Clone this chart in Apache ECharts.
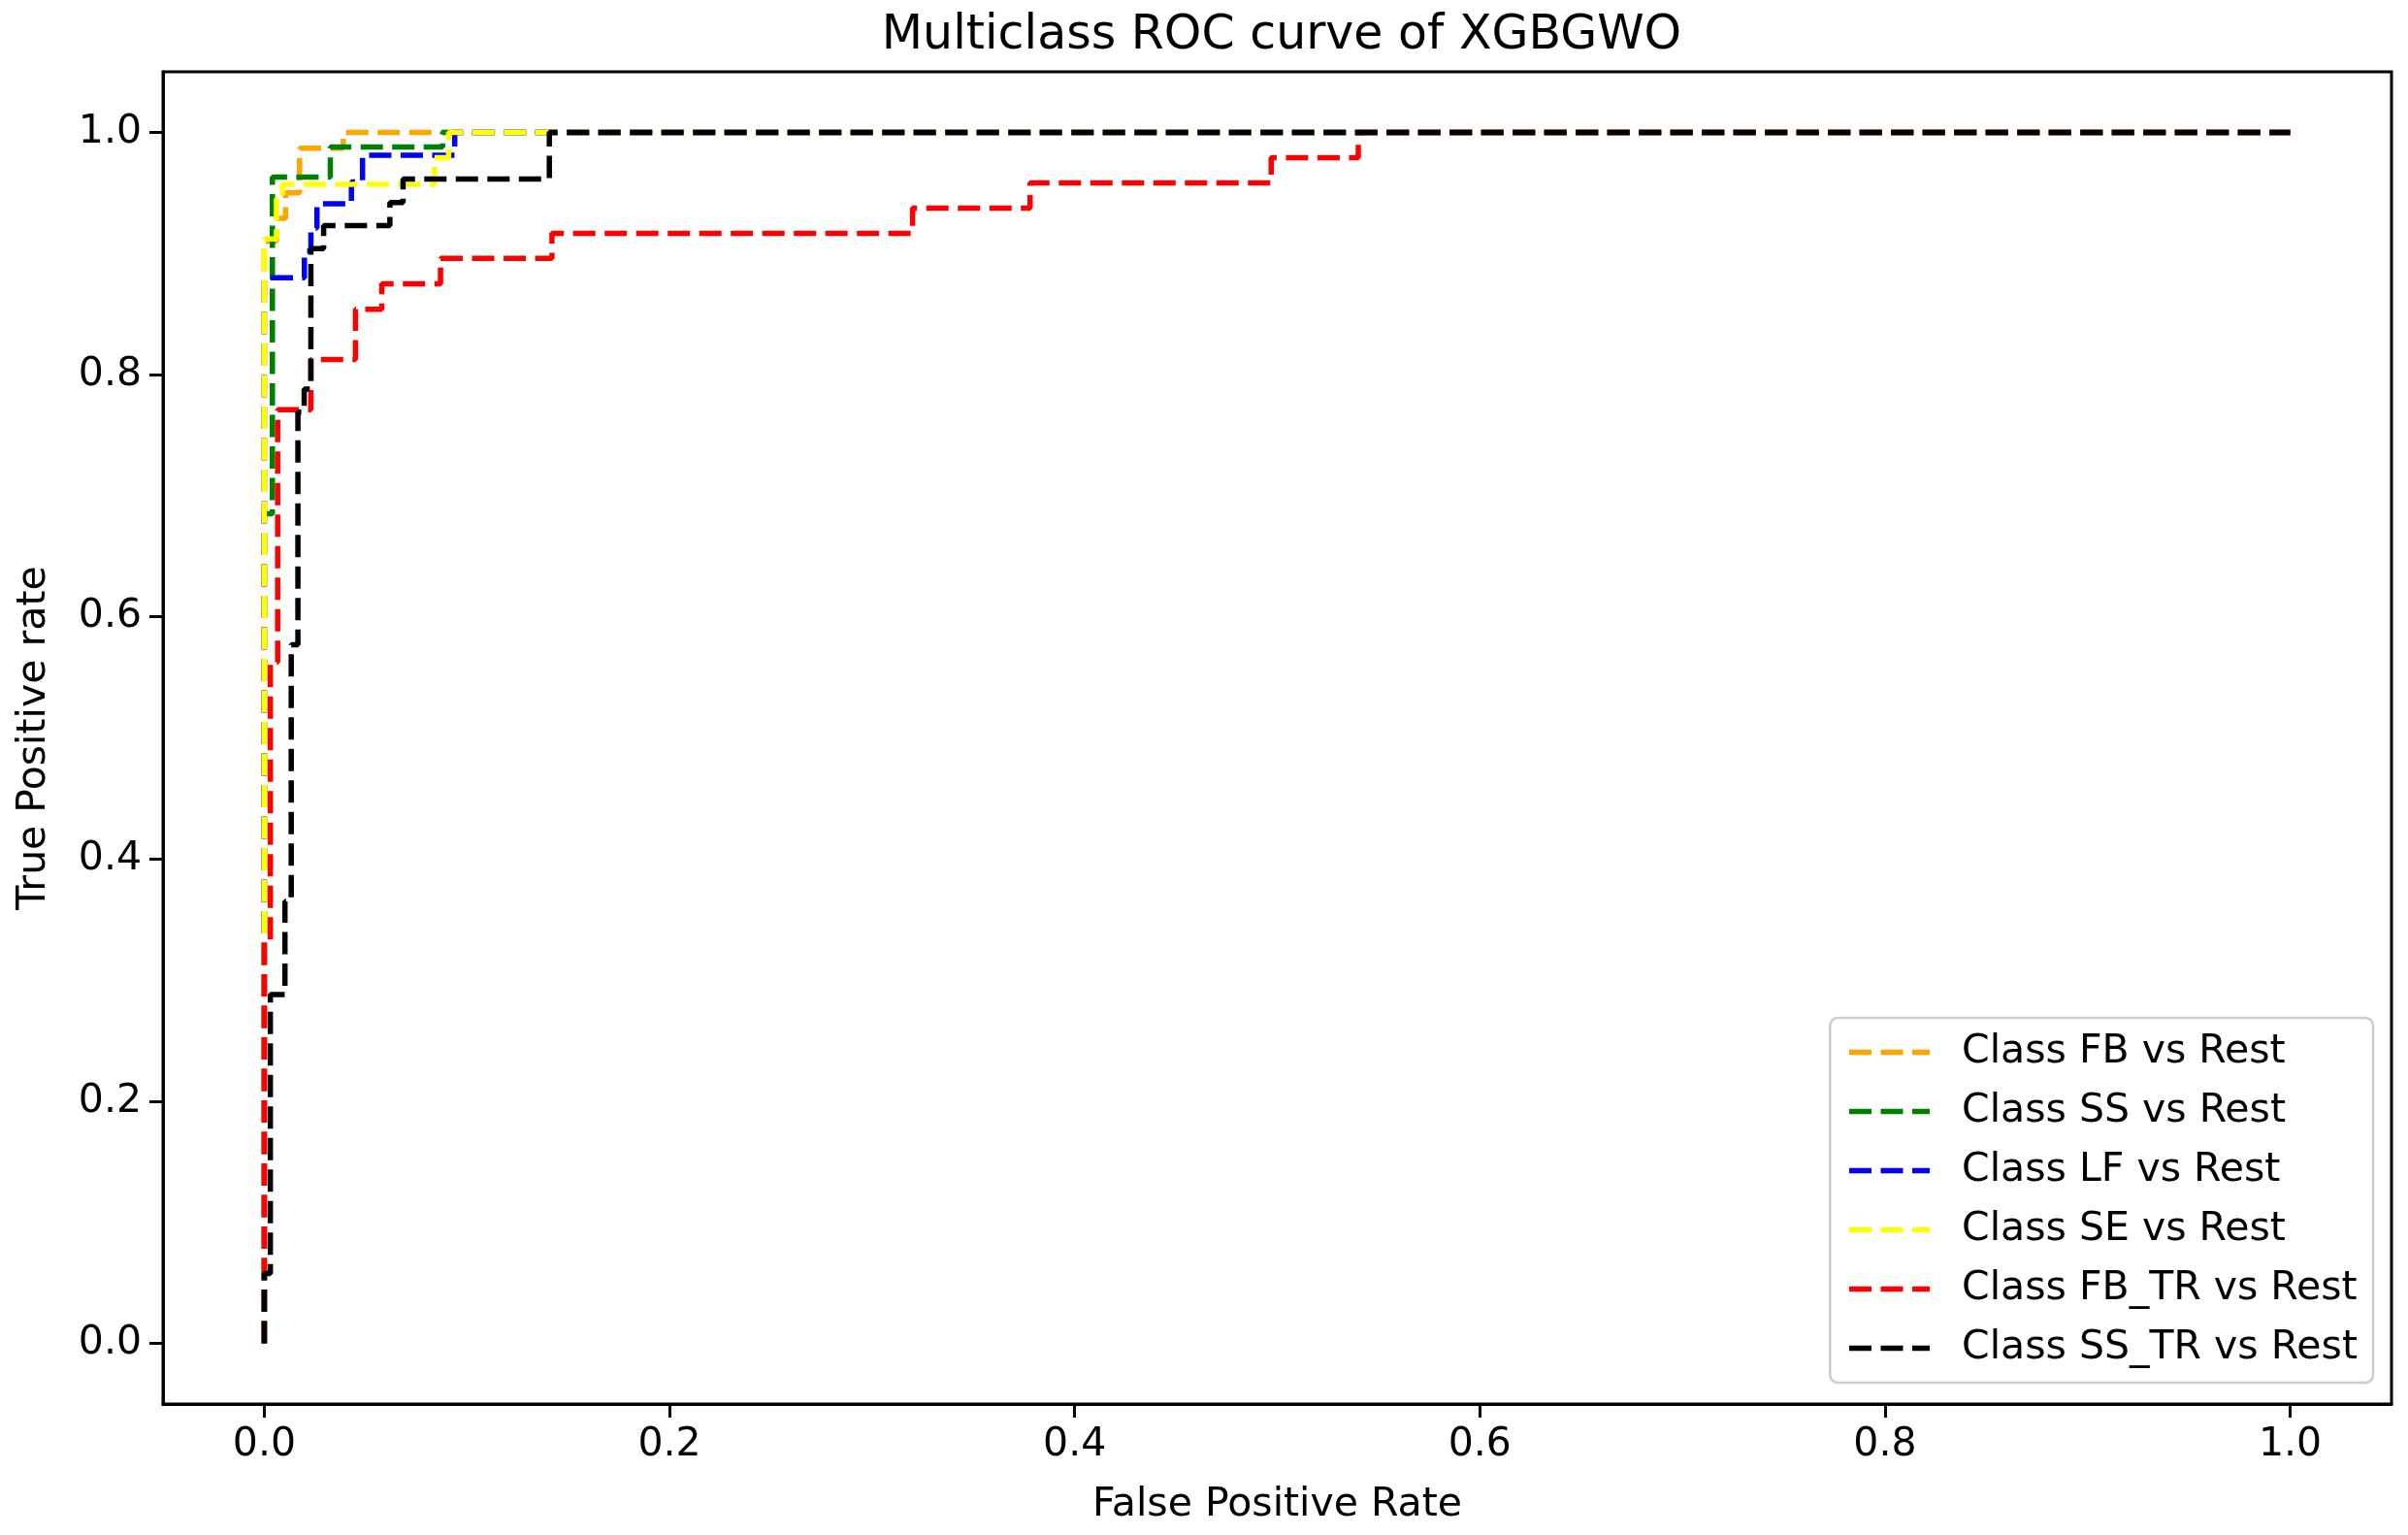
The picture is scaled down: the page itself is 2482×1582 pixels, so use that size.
<!DOCTYPE html>
<html>
<head>
<meta charset="utf-8">
<script src="https://cdn.jsdelivr.net/npm/echarts@6/dist/echarts.min.js"></script>
<style>
  html, body { margin: 0; padding: 0; background: #fff; }
  #chart { width: 2482px; height: 1582px; }
</style>
</head>
<body>
<div id="chart"></div>
<script>
// ---- data ----
const chartTitle = 'Multiclass ROC curve of XGBGWO';
const xAxisName = 'False Positive Rate';
const yAxisName = 'True Positive rate';
const xTicks = [0, 0.2, 0.4, 0.6, 0.8, 1.0];
const yTicks = [0, 0.2, 0.4, 0.6, 0.8, 1.0];
const classNames = ['Class FB vs Rest', 'Class SS vs Rest', 'Class LF vs Rest',
                    'Class SE vs Rest', 'Class FB_TR vs Rest', 'Class SS_TR vs Rest'];

const fbFpr = [0, 0, 0.006, 0.006, 0.0105, 0.0105, 0.0174, 0.0174, 0.039, 0.039, 1];
const fbTpr = [0, 0.91, 0.91, 0.929, 0.929, 0.95, 0.95, 0.987, 0.987, 1, 1];

const ssFpr = [0, 0, 0.004, 0.004, 0.0326, 0.0326, 0.088, 0.088, 1];
const ssTpr = [0, 0.685, 0.685, 0.963, 0.963, 0.988, 0.988, 1, 1];

const lfFpr = [0, 0, 0.0198, 0.0198, 0.023, 0.023, 0.026, 0.026, 0.043, 0.043, 0.0485, 0.0485, 0.094, 0.094, 1];
const lfTpr = [0, 0.88, 0.88, 0.902, 0.902, 0.921, 0.921, 0.941, 0.941, 0.959, 0.959, 0.981, 0.981, 1, 1];

const seFpr = [0, 0, 0.006, 0.006, 0.009, 0.009, 0.084, 0.084, 0.091, 0.091, 1];
const seTpr = [0, 0.912, 0.912, 0.945, 0.945, 0.957, 0.957, 0.979, 0.979, 1, 1];

const fbtrFpr = [0, 0, 0.003, 0.003, 0.0066, 0.0066, 0.023, 0.023, 0.045, 0.045, 0.058, 0.058, 0.087, 0.087,
                 0.142, 0.142, 0.320, 0.320, 0.378, 0.378, 0.497, 0.497, 0.540, 0.540, 1];
const fbtrTpr = [0, 0.333, 0.333, 0.5625, 0.5625, 0.771, 0.771, 0.8125, 0.8125, 0.854, 0.854, 0.875, 0.875, 0.896,
                 0.896, 0.9167, 0.9167, 0.9375, 0.9375, 0.9583, 0.9583, 0.979, 0.979, 1, 1];

const sstrFpr = [0, 0, 0.003, 0.003, 0.0102, 0.0102, 0.0133, 0.0133, 0.0166, 0.0166, 0.0197, 0.0197, 0.023, 0.023,
                 0.0293, 0.0293, 0.062, 0.062, 0.0685, 0.0685, 0.1407, 0.1407, 1];
const sstrTpr = [0, 0.0577, 0.0577, 0.288, 0.288, 0.365, 0.365, 0.577, 0.577, 0.769, 0.769, 0.788, 0.788, 0.904,
                 0.904, 0.923, 0.923, 0.942, 0.942, 0.9615, 0.9615, 1, 1];

// ---- chart construction ----
const curves = [
  [fbFpr, fbTpr], [ssFpr, ssTpr], [lfFpr, lfTpr],
  [seFpr, seTpr], [fbtrFpr, fbtrTpr], [sstrFpr, sstrTpr]
];
const colors = ['#FFA500', '#008000', '#0000FF', '#FFFF00', '#FF0000', '#000000'];
const FONT = 'DejaVu Sans';

const series = curves.map((c, i) => ({
  name: classNames[i],
  type: 'line',
  data: c[0].map((x, k) => [x, c[1][k]]),
  symbol: 'none',
  showSymbol: false,
  animation: false,
  silent: true,
  lineStyle: { color: colors[i], width: 5.5, type: [23, 9.5], cap: 'butt' },
  itemStyle: { color: colors[i] },
  z: 2 + i
}));

const fmt = v => Number(v).toFixed(1);

const chart = echarts.init(document.getElementById('chart'), null, { renderer: 'canvas' });
chart.setOption({
  backgroundColor: '#ffffff',
  animation: false,
  title: {
    text: chartTitle,
    left: 1316,
    top: 8,
    textAlign: 'center',
    textStyle: { fontFamily: FONT, fontSize: 49, fontWeight: 'normal', color: '#000' }
  },
  grid: {
    left: 168, right: 17, top: 74, bottom: 135,
    show: true, borderColor: '#000', borderWidth: 3, backgroundColor: 'transparent'
  },
  legend: {
    orient: 'vertical',
    right: 36,
    bottom: 157,
    itemWidth: 83,
    itemHeight: 20,
    itemGap: 20,
    padding: [15, 16, 15, 17],
    backgroundColor: 'rgba(255,255,255,0.8)',
    borderColor: '#cccccc',
    borderWidth: 2.5,
    borderRadius: 8,
    selectedMode: false,
    itemStyle: { opacity: 0 },
    lineStyle: { type: 'inherit', width: 'inherit' },
    textStyle: { fontFamily: FONT, fontSize: 41, color: '#000', lineHeight: 41, padding: [0, 0, 0, 28] },
    data: classNames
  },
  xAxis: {
    type: 'value',
    min: -0.05, max: 1.05,
    name: xAxisName,
    nameLocation: 'middle',
    nameGap: 84,
    nameTextStyle: { fontFamily: FONT, fontSize: 41, color: '#000' },
    splitLine: { show: false },
    axisLine: { show: true, onZero: false, lineStyle: { color: '#000', width: 3 } },
    axisTick: { show: true, length: 14, lineStyle: { color: '#000', width: 3 }, customValues: xTicks },
    axisLabel: { show: true, margin: 22, fontFamily: FONT, fontSize: 41, color: '#000',
                 customValues: xTicks, formatter: fmt }
  },
  yAxis: {
    type: 'value',
    min: -0.05, max: 1.05,
    name: yAxisName,
    nameLocation: 'middle',
    nameGap: 112,
    nameRotate: 90,
    nameTextStyle: { fontFamily: FONT, fontSize: 41, color: '#000' },
    splitLine: { show: false },
    axisLine: { show: true, onZero: false, lineStyle: { color: '#000', width: 3 } },
    axisTick: { show: true, length: 14, lineStyle: { color: '#000', width: 3 }, customValues: yTicks },
    axisLabel: { show: true, margin: 22, fontFamily: FONT, fontSize: 41, color: '#000',
                 customValues: yTicks, formatter: fmt }
  },
  series: series
});
</script>
</body>
</html>
